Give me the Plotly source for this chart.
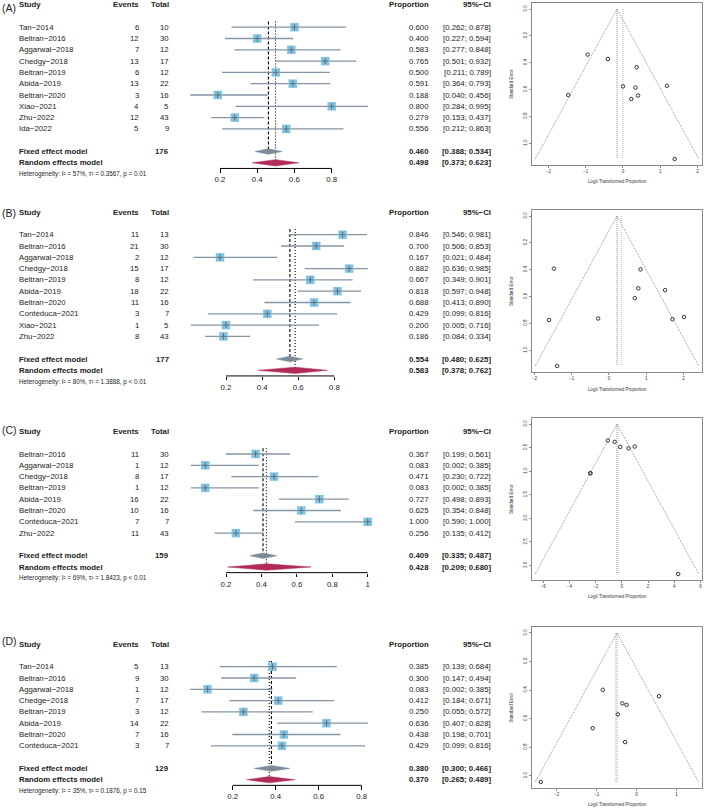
import plotly.graph_objects as go

W, H = 709, 810
FONT = "Liberation Sans, Arial, Helvetica, sans-serif"

# ---------------- data: panel A ----------------
studies_A = ["Tan−2014", "Beltran−2016", "Aggarwal−2018", "Chedgy−2018", "Beltran−2019",
             "Abida−2019", "Beltran−2020", "Xiao−2021", "Zhu−2022", "Ida−2022"]
events_A = [6, 12, 7, 13, 6, 13, 3, 4, 12, 5]
totals_A = [10, 30, 12, 17, 12, 22, 16, 5, 43, 9]
prop_A = [0.600, 0.400, 0.583, 0.765, 0.500, 0.591, 0.188, 0.800, 0.279, 0.556]
lower_A = [0.262, 0.227, 0.277, 0.501, 0.211, 0.364, 0.040, 0.284, 0.153, 0.212]
upper_A = [0.878, 0.594, 0.848, 0.932, 0.789, 0.793, 0.456, 0.995, 0.437, 0.863]
fixed_A = [0.460, 0.388, 0.534]
random_A = [0.498, 0.373, 0.623]
nsum_A = 176
het_A = ["57%", "0.3567", "= 0.01"]
logit_A = [0.405, -0.405, 0.336, 1.179, 0.000, 0.368, -1.466, 1.386, -0.949, 0.223]
se_A = [0.645, 0.373, 0.586, 0.572, 0.577, 0.434, 0.641, 1.118, 0.340, 0.671]
funnel_fixed_A, funnel_random_A = -0.160, -0.008
ticks_A = [0.2, 0.4, 0.6, 0.8]
ticktext_A = ["0.2", "0.4", "0.6", "0.8"]
fx_ticks_A = [-2, -1, 0, 1, 2]
fy_ticks_A = [0.0, 0.2, 0.4, 0.6, 0.8, 1.0]

# ---------------- data: panel B ----------------
studies_B = ["Tan−2014", "Beltran−2016", "Aggarwal−2018", "Chedgy−2018", "Beltran−2019",
             "Abida−2019", "Beltran−2020", "Conteduca−2021", "Xiao−2021", "Zhu−2022"]
events_B = [11, 21, 2, 15, 8, 18, 11, 3, 1, 8]
totals_B = [13, 30, 12, 17, 12, 22, 16, 7, 5, 43]
prop_B = [0.846, 0.700, 0.167, 0.882, 0.667, 0.818, 0.688, 0.429, 0.200, 0.186]
lower_B = [0.546, 0.506, 0.021, 0.636, 0.349, 0.597, 0.413, 0.099, 0.005, 0.084]
upper_B = [0.981, 0.853, 0.484, 0.985, 0.901, 0.948, 0.890, 0.816, 0.716, 0.334]
fixed_B = [0.554, 0.480, 0.625]
random_B = [0.583, 0.378, 0.762]
nsum_B = 177
het_B = ["80%", "1.3888", "&lt; 0.01"]
logit_B = [1.705, 0.847, -1.609, 2.015, 0.693, 1.504, 0.788, -0.288, -1.386, -1.476]
se_B = [0.769, 0.398, 0.775, 0.753, 0.612, 0.553, 0.539, 0.764, 1.118, 0.392]
funnel_fixed_B, funnel_random_B = 0.217, 0.335
ticks_B = [0.2, 0.4, 0.6, 0.8]
ticktext_B = ["0.2", "0.4", "0.6", "0.8"]
fx_ticks_B = [-2, -1, 0, 1, 2]
fy_ticks_B = [0.0, 0.2, 0.4, 0.6, 0.8, 1.0]

# ---------------- data: panel C ----------------
studies_C = ["Beltran−2016", "Aggarwal−2018", "Chedgy−2018", "Beltran−2019",
             "Abida−2019", "Beltran−2020", "Conteduca−2021", "Zhu−2022"]
events_C = [11, 1, 8, 1, 16, 10, 7, 11]
totals_C = [30, 12, 17, 12, 22, 16, 7, 43]
prop_C = [0.367, 0.083, 0.471, 0.083, 0.727, 0.625, 1.000, 0.256]
lower_C = [0.199, 0.002, 0.230, 0.002, 0.498, 0.354, 0.590, 0.135]
upper_C = [0.561, 0.385, 0.722, 0.385, 0.893, 0.848, 1.000, 0.412]
fixed_C = [0.409, 0.335, 0.487]
random_C = [0.428, 0.209, 0.680]
nsum_C = 159
het_C = ["69%", "1.8423", "&lt; 0.01"]
logit_C = [-0.547, -2.398, -0.118, -2.398, 0.981, 0.511, 4.30, -1.068]
se_C = [0.379, 1.044, 0.486, 1.044, 0.479, 0.516, 3.18, 0.350]
funnel_fixed_C, funnel_random_C = -0.367, -0.290
ticks_C = [0.2, 0.4, 0.6, 0.8, 1.0]
ticktext_C = ["0.2", "0.4", "0.6", "0.8", "1"]
fx_ticks_C = [-6, -4, -2, 0, 2, 4, 6]
fy_ticks_C = [0.0, 0.5, 1.0, 1.5, 2.0, 2.5, 3.0]

# ---------------- data: panel D ----------------
studies_D = ["Tan−2014", "Beltran−2016", "Aggarwal−2018", "Chedge−2018", "Beltran−2019",
             "Abida−2019", "Beltran−2020", "Conteduca−2021"]
events_D = [5, 9, 1, 7, 3, 14, 7, 3]
totals_D = [13, 30, 12, 17, 12, 22, 16, 7]
prop_D = [0.385, 0.300, 0.083, 0.412, 0.250, 0.636, 0.438, 0.429]
lower_D = [0.139, 0.147, 0.002, 0.184, 0.055, 0.407, 0.198, 0.099]
upper_D = [0.684, 0.494, 0.385, 0.671, 0.572, 0.828, 0.701, 0.816]
fixed_D = [0.380, 0.300, 0.466]
random_D = [0.370, 0.265, 0.489]
nsum_D = 129
het_D = ["35%", "0.1876", "= 0.15"]
logit_D = [-0.470, -0.847, -2.398, -0.357, -1.099, 0.560, -0.251, -0.288]
se_D = [0.570, 0.398, 1.044, 0.493, 0.667, 0.443, 0.504, 0.764]
funnel_fixed_D, funnel_random_D = -0.490, -0.532
ticks_D = [0.2, 0.4, 0.6, 0.8]
ticktext_D = ["0.2", "0.4", "0.6", "0.8"]
fx_ticks_D = [-2, -1, 0, 1]
fy_ticks_D = [0.0, 0.2, 0.4, 0.6, 0.8, 1.0]

panels = [
    dict(letter="(A)", studies=studies_A, events=events_A, totals=totals_A, prop=prop_A,
         lower=lower_A, upper=upper_A, fixed=fixed_A, random=random_A, nsum=nsum_A, het=het_A,
         logit=logit_A, se=se_A, ff=funnel_fixed_A, fr=funnel_random_A, ticks=ticks_A,
         ticktext=ticktext_A, fxt=fx_ticks_A, fyt=fy_ticks_A),
    dict(letter="(B)", studies=studies_B, events=events_B, totals=totals_B, prop=prop_B,
         lower=lower_B, upper=upper_B, fixed=fixed_B, random=random_B, nsum=nsum_B, het=het_B,
         logit=logit_B, se=se_B, ff=funnel_fixed_B, fr=funnel_random_B, ticks=ticks_B,
         ticktext=ticktext_B, fxt=fx_ticks_B, fyt=fy_ticks_B),
    dict(letter="(C)", studies=studies_C, events=events_C, totals=totals_C, prop=prop_C,
         lower=lower_C, upper=upper_C, fixed=fixed_C, random=random_C, nsum=nsum_C, het=het_C,
         logit=logit_C, se=se_C, ff=funnel_fixed_C, fr=funnel_random_C, ticks=ticks_C,
         ticktext=ticktext_C, fxt=fx_ticks_C, fyt=fy_ticks_C),
    dict(letter="(D)", studies=studies_D, events=events_D, totals=totals_D, prop=prop_D,
         lower=lower_D, upper=upper_D, fixed=fixed_D, random=random_D, nsum=nsum_D, het=het_D,
         logit=logit_D, se=se_D, ff=funnel_fixed_D, fr=funnel_random_D, ticks=ticks_D,
         ticktext=ticktext_D, fxt=fx_ticks_D, fyt=fy_ticks_D),
]

# ---------------- geometry (pixels) ----------------
ROW = 11.3
geom = [
    dict(row0=27.2, top=0, bot=192, t0=(0.2, 220.0), t1=(0.8, 331.7), fbox=(3, 165), letter_y=7.5, ftitle=181.5),
    dict(row0=234.7, top=192, bot=392, t0=(0.2, 226.0), t1=(0.8, 334.3), fbox=(210, 372), letter_y=212.5, ftitle=389),
    dict(row0=454.0, top=392, bot=592, t0=(0.2, 226.0), t1=(0.8, 332.3), fbox=(418, 580), letter_y=429.5, ftitle=596),
    dict(row0=666.7, top=592, bot=810, t0=(0.2, 232.7), t1=(0.6, 318.7), fbox=(627, 788), letter_y=640.5, ftitle=804),
]
FOREST_X = (176, 388)
FUNNEL_X = (532, 702)
COL_STUDY, COL_EVENTS, COL_TOTAL, COL_PROP, COL_CI = 19, 138.5, 168.5, 429.5, 490.5

C_LINE = "#8593A3"
C_SQ = "#80C4E2"
C_FIX = "#7B8B9B"
C_RAN = "#B02A5A"
C_TXT = "#1c1c1c"


def px_x(p):
    return p / W


def px_y(p):
    return 1 - p / H


fig = go.Figure()
layout = dict(width=W, height=H, margin=dict(l=0, r=0, t=0, b=0),
              paper_bgcolor="white", plot_bgcolor="white", showlegend=False,
              font=dict(family=FONT, color=C_TXT), hovermode=False)
annotations = []


def ann(text, x_px, yref, y, anchor="left", size=7.8, bold=False, color=C_TXT, **kw):
    if bold:
        text = "<b>" + text + "</b>"
    d = dict(text=text, xref="paper", x=px_x(x_px), yref=yref, y=y, xanchor=anchor,
             yanchor="middle", showarrow=False, borderpad=0, borderwidth=0,
             font=dict(size=size, color=color, family=FONT))
    d.update(kw)
    annotations.append(d)


for i, (P, G) in enumerate(zip(panels, geom)):
    fxi, fyi = 2 * i + 1, 2 * i + 2
    xa_f = "x" if fxi == 1 else f"x{fxi}"
    ya_f = "y" if fxi == 1 else f"y{fxi}"
    xa_n, ya_n = f"x{fyi}", f"y{fyi}"
    n = len(P["studies"])
    rows = list(range(n))
    r_fix, r_ran, r_het, r_axis = n + 1, n + 2, n + 3, n + 2.5

    # ---- forest axes ----
    (v0, p0), (v1, p1) = G["t0"], G["t1"]
    k = (p1 - p0) / (v1 - v0)
    xr = [v0 - (p0 - FOREST_X[0]) / k, v0 + (FOREST_X[1] - p0) / k]
    yr = [(G["bot"] - G["row0"]) / ROW, (G["top"] - G["row0"]) / ROW]
    axis_px = G["row0"] + r_axis * ROW
    layout["xaxis" if fxi == 1 else f"xaxis{fxi}"] = dict(
        domain=[px_x(FOREST_X[0]), px_x(FOREST_X[1])], range=xr, anchor="free",
        position=px_y(axis_px), showline=False, showgrid=False, zeroline=False,
        ticks="outside", ticklen=3.5, tickwidth=1, tickcolor="black",
        tickvals=P["ticks"], ticktext=P["ticktext"], tickfont=dict(size=7.8, color=C_TXT),
        fixedrange=True)
    layout["yaxis" if fxi == 1 else f"yaxis{fxi}"] = dict(
        domain=[px_y(G["bot"]), px_y(G["top"])], range=yr, anchor=xa_f, visible=False,
        fixedrange=True)

    # axis line
    fig.add_trace(go.Scatter(x=[P["ticks"][0], P["ticks"][-1]], y=[r_axis, r_axis], mode="lines",
                             line=dict(color="black", width=1), xaxis=xa_f, yaxis=ya_f,
                             hoverinfo="skip"))
    # reference lines
    fig.add_trace(go.Scatter(x=[P["fixed"][0]] * 2, y=[-0.5, r_fix - 0.2], mode="lines",
                             line=dict(color="black", width=1.1, dash="3px,2px"),
                             xaxis=xa_f, yaxis=ya_f, hoverinfo="skip"))
    fig.add_trace(go.Scatter(x=[P["random"][0]] * 2, y=[-0.5, r_ran - 0.2], mode="lines",
                             line=dict(color="black", width=1.1, dash="1px,2px"),
                             xaxis=xa_f, yaxis=ya_f, hoverinfo="skip"))
    # CI lines
    cx, cy = [], []
    for r, lo, hi in zip(rows, P["lower"], P["upper"]):
        cx += [lo, hi, None]
        cy += [r, r, None]
    fig.add_trace(go.Scatter(x=cx, y=cy, mode="lines", line=dict(color=C_LINE, width=1.3),
                             xaxis=xa_f, yaxis=ya_f, hoverinfo="skip"))
    # squares
    fig.add_trace(go.Scatter(x=P["prop"], y=rows, mode="markers",
                             marker=dict(symbol="square", size=8.5, color=C_SQ, line=dict(width=0)),
                             xaxis=xa_f, yaxis=ya_f, hoverinfo="skip", cliponaxis=False))
    fig.add_trace(go.Scatter(x=P["prop"], y=rows, mode="markers",
                             marker=dict(symbol="cross-thin", size=4.5, color="#5f6d7c",
                                         line=dict(color="#5f6d7c", width=1)),
                             xaxis=xa_f, yaxis=ya_f, hoverinfo="skip", cliponaxis=False))
    # diamonds
    for (est, lo, hi), r, col, hh in [(P["fixed"], r_fix, C_FIX, 0.25), (P["random"], r_ran, C_RAN, 0.28)]:
        fig.add_trace(go.Scatter(x=[lo, est, hi, est, lo], y=[r, r - hh, r, r + hh, r],
                                 mode="lines", fill="toself", fillcolor=col,
                                 line=dict(color=col, width=0.5), xaxis=xa_f, yaxis=ya_f,
                                 hoverinfo="skip"))

    # ---- texts ----
    ann(P["letter"], 2, "paper", px_y(G["letter_y"]), size=10.5)
    ann("Study", COL_STUDY, ya_f, -2, bold=True)
    ann("Events", COL_EVENTS, ya_f, -2, anchor="right", bold=True)
    ann("Total", COL_TOTAL, ya_f, -2, anchor="right", bold=True)
    ann("Proportion", COL_PROP, ya_f, -2, anchor="right", bold=True)
    ann("95%−CI", COL_CI, ya_f, -2, anchor="right", bold=True)
    for r, s, e, t, p, lo, hi in zip(rows, P["studies"], P["events"], P["totals"], P["prop"],
                                     P["lower"], P["upper"]):
        ann(s, COL_STUDY, ya_f, r)
        ann(str(e), COL_EVENTS, ya_f, r, anchor="right")
        ann(str(t), COL_TOTAL, ya_f, r, anchor="right")
        ann(f"{p:.3f}", COL_PROP, ya_f, r, anchor="right")
        ann(f"[{lo:.3f}; {hi:.3f}]", COL_CI, ya_f, r, anchor="right")
    ann("Fixed effect model", COL_STUDY, ya_f, r_fix, bold=True)
    ann(str(P["nsum"]), COL_TOTAL, ya_f, r_fix, anchor="right", bold=True)
    ann(f"{P['fixed'][0]:.3f}", COL_PROP, ya_f, r_fix, anchor="right", bold=True)
    ann(f"[{P['fixed'][1]:.3f}; {P['fixed'][2]:.3f}]", COL_CI, ya_f, r_fix, anchor="right", bold=True)
    ann("Random effects model", COL_STUDY, ya_f, r_ran, bold=True)
    ann(f"{P['random'][0]:.3f}", COL_PROP, ya_f, r_ran, anchor="right", bold=True)
    ann(f"[{P['random'][1]:.3f}; {P['random'][2]:.3f}]", COL_CI, ya_f, r_ran, anchor="right", bold=True)
    i2, tau2, pv = P["het"]
    ann(f"Heterogeneity: I² = {i2}, τ² = {tau2}, p {pv}", COL_STUDY, ya_f, r_het, size=6.3)

    # ---- funnel ----
    semax = max(P["se"])
    half = 1.96 * semax * 1.04
    ftop, fbot = G["fbox"]
    layout[f"xaxis{fyi}"] = dict(
        domain=[px_x(FUNNEL_X[0]), px_x(FUNNEL_X[1])], range=[P["ff"] - half, P["ff"] + half],
        anchor=ya_n, showline=True, mirror=True, linecolor="#8a8a8a", linewidth=1,
        showgrid=False, zeroline=False, ticks="outside", ticklen=2, tickcolor="#8a8a8a",
        tickvals=P["fxt"], tickfont=dict(size=4.5, color="#333"), fixedrange=True)
    layout[f"yaxis{fyi}"] = dict(
        domain=[px_y(fbot), px_y(ftop)], range=[1.04 * semax, -0.04 * semax],
        anchor=xa_n, showline=True, mirror=True, linecolor="#8a8a8a", linewidth=1,
        showgrid=False, zeroline=False, ticks="outside", ticklen=2, tickcolor="#8a8a8a",
        tickvals=P["fyt"], tickformat=".1f", tickangle=-90,
        tickfont=dict(size=4.5, color="#333"), fixedrange=True)
    fig.add_trace(go.Scatter(x=[P["ff"] - 1.96 * semax, P["ff"], P["ff"] + 1.96 * semax],
                             y=[semax, 0, semax], mode="lines",
                             line=dict(color="#9a9a9a", width=0.8, dash="2px,1px"),
                             xaxis=xa_n, yaxis=ya_n, hoverinfo="skip"))
    fig.add_trace(go.Scatter(x=[P["ff"]] * 2, y=[0, semax], mode="lines",
                             line=dict(color="#777", width=0.8, dash="1px,1px"),
                             xaxis=xa_n, yaxis=ya_n, hoverinfo="skip"))
    fig.add_trace(go.Scatter(x=[P["fr"]] * 2, y=[0, semax], mode="lines",
                             line=dict(color="#bbb", width=0.8, dash="1px,1px"),
                             xaxis=xa_n, yaxis=ya_n, hoverinfo="skip"))
    fig.add_trace(go.Scatter(x=P["logit"], y=P["se"], mode="markers",
                             marker=dict(symbol="circle-open", size=3.5, color="#333",
                                         line=dict(color="#333", width=1)),
                             xaxis=xa_n, yaxis=ya_n, hoverinfo="skip", cliponaxis=False))
    ann("Standard Error", 511, "paper", px_y((ftop + fbot) / 2), anchor="center", size=4.5,
        textangle=-90, color="#333")
    ann("Logit Transformed Proportion", (FUNNEL_X[0] + FUNNEL_X[1]) / 2, "paper", px_y(G["ftitle"]),
        anchor="center", size=4.5, color="#333")

layout["annotations"] = annotations
fig.update_layout(**layout)
fig.write_html("out.html", config={"displayModeBar": False, "staticPlot": True},
               post_script="document.body.style.margin='0';")
